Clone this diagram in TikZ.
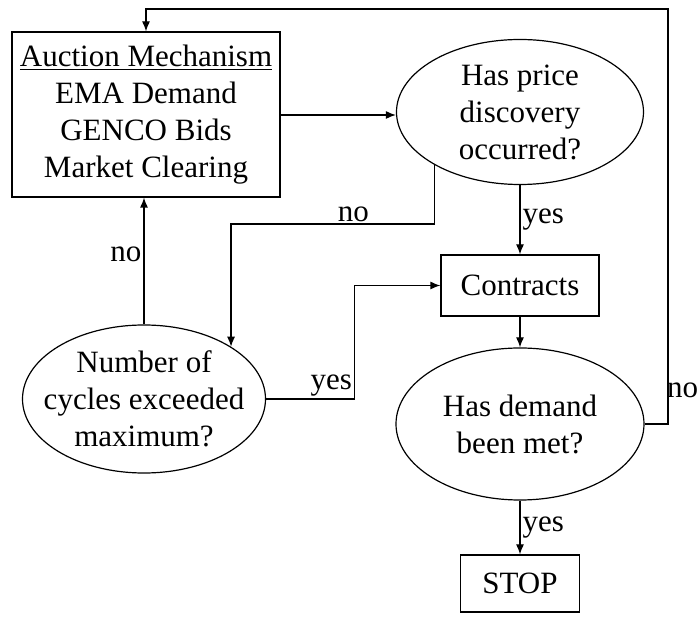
\documentclass[tikz,border=0pt]{standalone}
\usepackage{fontspec}
\setmainfont{Liberation Serif}
\usetikzlibrary{shapes.geometric,arrows.meta}
\tikzset{
  box/.style={draw, align=center, inner sep=2pt},
  query/.style={draw, ellipse, align=center, inner sep=-8pt},
  tag/.style={inner sep=1pt},
}
\begin{document}
\begin{tikzpicture}[x=0.5pt, y=-0.5pt, >={Latex[length=5pt,width=4pt]}, line width=0.6pt,
  font=\fontsize{15.5}{18.5}\selectfont]
\useasboundingbox (0,0) rectangle (698,620);
% blocks
\node[box, minimum width=134pt, minimum height=82.5pt] (auction) at (146,114.5)
  {\underline{Auction Mechanism}\\EMA Demand\\GENCO Bids\\Market Clearing};
\node[query, minimum width=123.5pt, minimum height=72.5pt] (price) at (520,112)
  {Has price\\discovery\\occurred?};
\node[box, minimum width=79pt, minimum height=30.5pt] (contracts) at (520,285.5) {Contracts};
\node[query, minimum width=121.5pt, minimum height=74pt] (number) at (144,399)
  {Number of\\cycles exceeded\\maximum?};
\node[query, minimum width=124pt, minimum height=76pt] (demand) at (520,424)
  {Has demand\\been met?};
\node[box, minimum width=59.5pt, minimum height=28.5pt] (stop) at (520,583.5) {STOP};
\coordinate (loop) at (668,9);
\coordinate (nobend) at (300,224);
% connectors
\draw[->] (auction.east |- 0,115) -- (price.west |- 0,115);
\draw[->] (price.south) -- node[tag, right]{yes} (contracts.north);
\draw[->] (contracts.south) -- (demand.north);
\draw[->] (demand.south) -- node[tag, right]{yes} (stop.north);
\draw[->] (demand.east) -| node[inner sep=0pt, pos=0.54, right, xshift=-0.8pt]{no} (loop) -| (auction.north);
\draw[->] (price.212) -- (price.212 |- nobend) -| node[tag, pos=0.2, above]{no} (number.31);
\draw[->] (number.north) -- node[tag, pos=0.55, left]{no} (number.north |- auction.south);
\draw[->] (number.east) -- node[tag, pos=0.74, above]{yes} ++(44pt,0) |- (contracts.west);
\end{tikzpicture}
\end{document}
